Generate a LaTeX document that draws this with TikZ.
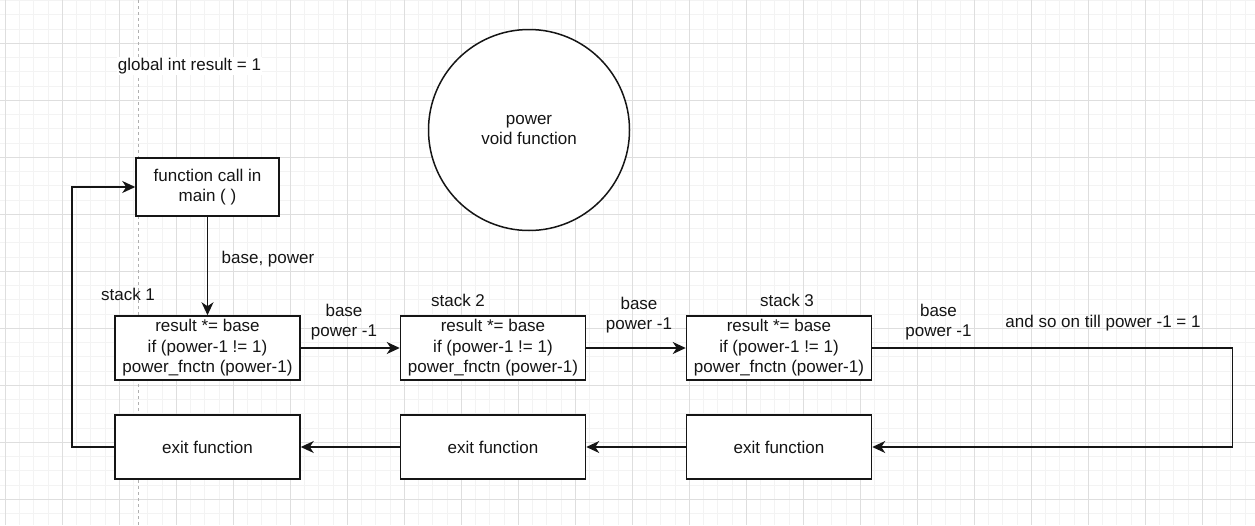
\documentclass[tikz,border=0pt]{standalone}
\usepackage{fontspec}
\setmainfont{Liberation Sans}
\usetikzlibrary{arrows.meta}
\definecolor{minorgrid}{HTML}{F3F3F3}
\definecolor{majorgrid}{HTML}{DEDEDE}
\definecolor{guide}{HTML}{B0B0B0}
\definecolor{ink}{HTML}{151515}
\tikzset{
  txt/.style={font=\fontsize{17}{20.5}\selectfont, text=ink, align=center},
  box/.style={txt, draw=ink, line width=1.5pt, fill=white, inner sep=0pt},
  wide/.style={box, minimum width=185pt, minimum height=64pt},
  lbl/.style={txt, inner sep=1pt},
  arr/.style={draw=ink, line width=1.4pt, -{Stealth[length=13pt,width=12pt,inset=4pt]}},
}
\begin{document}
\begin{tikzpicture}[x=1pt,y=-1pt]
\useasboundingbox (0,0) rectangle (1255,525);
% grid
\foreach \i in {0,...,88} {\draw[minorgrid, line width=0.8pt] ({5.3+14.25*\i},0) -- ({5.3+14.25*\i},525);}
\foreach \i in {0,...,37} {\draw[minorgrid, line width=0.8pt] (0,{0.55+14.25*\i}) -- (1255,{0.55+14.25*\i});}
\foreach \i in {0,...,22} {\draw[majorgrid, line width=0.9pt] ({5.3+57*\i},0) -- ({5.3+57*\i},525);}
\foreach \i in {-1,...,9} {\draw[majorgrid, line width=0.9pt] (0,{43.3+57*\i}) -- (1255,{43.3+57*\i});}
\draw[guide, dashed, line width=0.8pt] (138.3,0) -- (138.3,525);

% nodes
\node[lbl, fill=white] (glob) at (189.5,66) {global int result = 1};
\node[box, circle, minimum size=201pt] (pw) at (529,130) {power\\void function};
\node[box, minimum width=143pt, minimum height=58pt] (call) at (207.5,187) {function call in\\main ( )};
\node[wide] (s1) at (207.5,348) {result *= base\\if (power-1 != 1)\\power\_fnctn (power-1)};
\node[wide] (s2) at (493,348) {result *= base\\if (power-1 != 1)\\power\_fnctn (power-1)};
\node[wide] (s3) at (779,348) {result *= base\\if (power-1 != 1)\\power\_fnctn (power-1)};
\node[wide] (e1) at (207.5,447) {exit function};
\node[wide] (e2) at (493,447) {exit function};
\node[wide] (e3) at (779,447) {exit function};

% labels
\node[lbl] (bp) at (268,259) {base, power};
\node[lbl] (st1) at (128,294) {stack 1};
\node[lbl] (st2) at (458,300.7) {stack 2};
\node[lbl] (st3) at (787,300.7) {stack 3};
\node[lbl] (l1) at (344,322) {base\\power -1};
\node[lbl] (l2) at (639,315) {base\\power -1};
\node[lbl] (l3) at (938.5,322) {base\\power -1};
\node[lbl] (soon) at (1103,323.3) {and so on till power -1 = 1};

% connectors
\coordinate (r1) at (1232.5,348);
\coordinate (r2) at (1232.5,447);
\coordinate (q1) at (72,447);
\coordinate (q2) at (72,187);
\draw[arr] (call.south) -- (s1.north);
\draw[arr] (s1.east) -- (s2.west);
\draw[arr] (s2.east) -- (s3.west);
\draw[arr] (s3.east) -- (r1) -- (r2) -- (e3.east);
\draw[arr] (e3.west) -- (e2.east);
\draw[arr] (e2.west) -- (e1.east);
\draw[arr] (e1.west) -- (q1) -- (q2) -- (call.west);
\end{tikzpicture}
\end{document}
